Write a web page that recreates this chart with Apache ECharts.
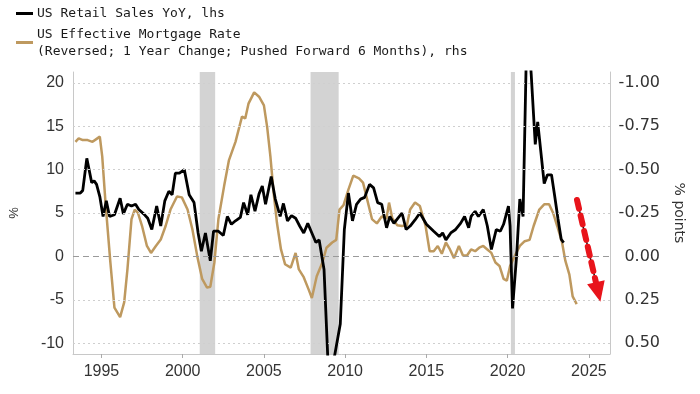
<!DOCTYPE html>
<html><head><meta charset="utf-8">
<script src="https://cdn.jsdelivr.net/npm/echarts@6/dist/echarts.min.js"></script>
<style>html,body{margin:0;padding:0;background:#fff}#c{width:700px;height:394px}</style>
</head><body><div id="c"></div>
<script>
// US Retail Sales YoY (%), left axis
const retailYears = [1993.4,1993.7,1993.85,1994.1,1994.4,1994.55,1994.7,1994.9,1995.1,1995.3,1995.5,1995.8,1996.15,1996.35,1996.6,1996.85,1997.1,1997.3,1997.6,1997.85,1998.1,1998.4,1998.65,1998.9,1999.15,1999.35,1999.55,1999.8,2000.1,2000.4,2000.7,2000.95,2001.15,2001.4,2001.7,2001.9,2002.2,2002.5,2002.75,2003.0,2003.25,2003.55,2003.75,2004.0,2004.2,2004.45,2004.7,2004.9,2005.1,2005.45,2005.7,2006.0,2006.2,2006.45,2006.7,2006.95,2007.2,2007.45,2007.7,2007.95,2008.2,2008.4,2008.7,2008.95,2009.25,2009.7,2009.95,2010.2,2010.45,2010.7,2010.95,2011.2,2011.5,2011.75,2012.0,2012.25,2012.55,2012.75,2013.0,2013.25,2013.5,2013.75,2014.0,2014.3,2014.6,2015.0,2015.45,2015.8,2016.0,2016.2,2016.5,2016.8,2017.1,2017.35,2017.6,2017.75,2018.0,2018.2,2018.5,2018.75,2019.0,2019.3,2019.55,2019.75,2020.05,2020.15,2020.3,2020.55,2020.75,2020.95,2021.2,2021.45,2021.7,2021.85,2022.25,2022.45,2022.7,2022.9,2023.1,2023.3,2023.45];
const retailValues = [7.3,7.3,7.6,11.3,8.5,8.7,8.3,6.9,4.6,6.4,4.6,4.8,6.7,4.9,6.0,5.8,6.0,5.4,4.9,4.4,3.1,5.8,3.5,6.4,7.5,7.1,9.6,9.6,10.0,7.1,6.2,2.7,0.6,2.7,-0.5,2.9,2.9,2.4,4.6,3.7,4.1,4.5,6.2,4.8,7.1,5.2,7.2,8.1,6.0,9.2,6.6,4.6,6.1,4.1,4.7,4.4,3.5,2.7,3.8,2.7,1.6,1.9,-1.5,-12.5,-12.5,-7.8,3.1,7.3,4.1,6.0,6.6,6.8,8.3,7.9,6.2,6.0,3.3,4.6,3.8,4.4,5.0,3.1,3.5,4.2,5.0,3.7,2.9,2.3,2.7,1.9,2.7,3.1,3.8,4.6,3.3,4.6,5.2,4.6,5.4,3.5,0.8,3.1,2.9,3.7,5.8,3.5,-6.0,0.0,6.6,4.6,28,21,12.9,15.5,8.4,9.4,9.4,6.9,4.3,1.95,1.6];

// US Effective Mortgage Rate, reversed 1y change (% points), right axis
const mortgageYears = [1993.4,1993.6,1993.85,1994.15,1994.45,1994.75,1994.9,1995.05,1995.25,1995.55,1995.8,1996.15,1996.4,1996.6,1996.85,1997.05,1997.25,1997.5,1997.8,1998.05,1998.35,1998.65,1998.95,1999.25,1999.65,1999.95,2000.3,2000.6,2000.9,2001.2,2001.5,2001.7,2001.95,2002.2,2002.55,2002.85,2003.25,2003.65,2003.85,2004.05,2004.4,2004.7,2005.0,2005.2,2005.4,2005.6,2005.8,2006.05,2006.3,2006.65,2006.95,2007.15,2007.45,2007.75,2007.95,2008.25,2008.6,2008.85,2009.2,2009.45,2009.65,2009.9,2010.2,2010.5,2010.85,2011.1,2011.35,2011.65,2011.95,2012.25,2012.55,2012.7,2012.9,2013.2,2013.5,2013.8,2014.0,2014.3,2014.6,2014.95,2015.2,2015.45,2015.7,2015.95,2016.2,2016.45,2016.7,2017.0,2017.25,2017.5,2017.75,2018.0,2018.25,2018.5,2018.75,2019.0,2019.25,2019.5,2019.75,2019.95,2020.15,2020.45,2020.75,2021.05,2021.35,2021.6,2021.95,2022.25,2022.55,2022.8,2023.05,2023.35,2023.55,2023.8,2024.0,2024.25];
const mortgageValues = [-0.66,-0.68,-0.67,-0.67,-0.66,-0.68,-0.69,-0.575,-0.31,0.035,0.295,0.35,0.265,0.075,-0.215,-0.27,-0.25,-0.175,-0.06,-0.02,-0.06,-0.0975,-0.175,-0.27,-0.345,-0.34,-0.27,-0.155,0,0.13,0.18,0.175,0.035,-0.215,-0.405,-0.555,-0.66,-0.805,-0.795,-0.88,-0.945,-0.92,-0.87,-0.745,-0.575,-0.365,-0.195,-0.04,0.045,0.065,-0.02,0.075,0.12,0.19,0.24,0.115,0.035,-0.05,-0.08,-0.095,-0.27,-0.295,-0.385,-0.465,-0.45,-0.425,-0.33,-0.215,-0.19,-0.23,-0.22,-0.31,-0.22,-0.18,-0.175,-0.18,-0.27,-0.31,-0.29,-0.175,-0.03,-0.03,-0.06,-0.015,-0.08,-0.04,0.01,-0.06,-0.005,-0.005,-0.04,-0.03,-0.05,-0.06,-0.04,-0.02,0.035,0.055,0.13,0.14,0.055,-0.005,-0.06,-0.0875,-0.095,-0.175,-0.27,-0.3,-0.3,-0.25,-0.175,-0.08,0.025,0.105,0.23,0.275];

const leftTicks = [-10,-5,0,5,10,15,20];
const rightTicks = [-1,-0.75,-0.5,-0.25,0,0.25,0.5];
const yearTicks = [1995,2000,2005,2010,2015,2020,2025];
const recessions = [[2001.05,2002.0],[2007.87,2009.6],[2020.2,2020.45]];
const arrowStart = [2024.27, 6.5];
const arrowEnd = [2025.57, -4.1];

const TAN = '#BE995F';
const chart = echarts.init(document.getElementById('c'), null, {renderer:'canvas'});
const labelFont = {fontFamily:'Liberation Sans', fontSize:16, color:'#333'};

chart.setOption({
  animation:false,
  backgroundColor:'#fff',
  grid:{left:72, right:90, top:72, bottom:40, containLabel:false},
  xAxis:{
    type:'value', min:1993.25, max:2026.3,
    axisLine:{show:true, onZero:false, lineStyle:{color:'#c8c8c8', width:1}},
    axisTick:{show:true, customValues:yearTicks, length:4, lineStyle:{color:'#aaa'}},
    axisLabel:Object.assign({customValues:yearTicks, margin:10, formatter:v=>String(v)}, labelFont),
    splitLine:{show:false}
  },
  yAxis:[{
    type:'value', position:'left', min:-11.25, max:21.25,
    axisLine:{show:true, onZero:false, lineStyle:{color:'#c8c8c8', width:1}},
    axisTick:{show:false},
    axisLabel:Object.assign({customValues:leftTicks, margin:9}, labelFont),
    splitLine:{show:false},
    name:'%', nameLocation:'middle', nameGap:52, nameRotate:90,
    nameTextStyle:{fontFamily:'Liberation Sans', fontSize:13, color:'#333'}
  },{
    type:'value', position:'right', min:-1.0625, max:0.5625, inverse:true,
    axisLine:{show:true, onZero:false, lineStyle:{color:'#c8c8c8', width:1}},
    axisTick:{show:false},
    axisLabel:{customValues:rightTicks, margin:50, align:'right',
      fontFamily:'DejaVu Sans', fontSize:16, color:'#333',
      formatter:v=>(Math.abs(v)<1e-9?0:v).toFixed(2)},
    splitLine:{show:false},
    name:'% points', nameLocation:'middle', nameGap:62, nameRotate:-90,
    nameTextStyle:{fontFamily:'DejaVu Sans', fontSize:14, color:'#333'}
  }],
  graphic:[
    {type:'rect', shape:{x:16,y:12,width:17,height:3}, style:{fill:'#000'}},
    {type:'text', x:37, y:14, style:{text:'US Retail Sales YoY, lhs', font:'13px "DejaVu Sans Mono"', fill:'#1a1a1a', verticalAlign:'middle'}},
    {type:'rect', shape:{x:16,y:41,width:17,height:3}, style:{fill:TAN}},
    {type:'text', x:37, y:35, style:{text:'US Effective Mortgage Rate', font:'13px "DejaVu Sans Mono"', fill:'#1a1a1a', verticalAlign:'middle'}},
    {type:'text', x:37, y:52, style:{text:'(Reversed; 1 Year Change; Pushed Forward 6 Months), rhs', font:'13px "DejaVu Sans Mono"', fill:'#1a1a1a', verticalAlign:'middle'}}
  ],
  series:[
    {
      name:'bg', type:'line', yAxisIndex:0, data:[], z:1, silent:true,
      markArea:{silent:true, itemStyle:{color:'#d3d3d3'},
        data:recessions.map(r=>[{xAxis:r[0]},{xAxis:r[1]}])},
      markLine:{silent:true, symbol:['none','none'], label:{show:false},
        data:leftTicks.map(v=>({yAxis:v, lineStyle: v===0
          ? {type:[6,4], color:'#9a9a9a', width:1}
          : {type:[2,3], color:'#cfcfcf', width:1}}))}
    },
    {
      name:'US Effective Mortgage Rate', type:'line', yAxisIndex:1, z:3,
      data:mortgageYears.map((y,i)=>[y, mortgageValues[i]]),
      showSymbol:false, lineStyle:{color:TAN, width:2.5}, itemStyle:{color:TAN}
    },
    {
      name:'US Retail Sales YoY', type:'line', yAxisIndex:0, z:4,
      data:retailYears.map((y,i)=>[y, retailValues[i]]),
      showSymbol:false, lineStyle:{color:'#000', width:2.8}, itemStyle:{color:'#000'}
    },
    {
      name:'arrow', type:'line', yAxisIndex:0, data:[], z:5, silent:true,
      markLine:{silent:true, label:{show:false}, symbol:['none','none'],
        data:[
          [{coord:arrowStart, symbol:'none', lineStyle:{color:'#111', width:1.5, type:'solid'}},
           {coord:arrowEnd, symbol:'none'}],
          [{coord:arrowStart, symbol:'none', lineStyle:{color:'#e8141b', width:6, type:[9,7], cap:'round'}, itemStyle:{color:'#e8141b'}},
           {coord:arrowEnd, symbol:'triangle', symbolSize:[18,20], itemStyle:{color:'#e8141b'}}]
        ]}
    }
  ]
});
</script></body></html>
